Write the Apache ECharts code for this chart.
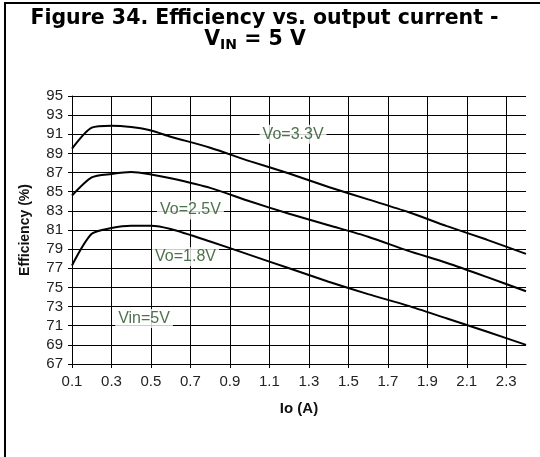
<!DOCTYPE html>
<html>
<head>
<meta charset="utf-8">
<script src="https://cdn.jsdelivr.net/npm/echarts@6/dist/echarts.min.js"></script>
<style>
  html, body { margin: 0; padding: 0; background: #fff; }
  #chart { width: 540px; height: 457px; }
</style>
</head>
<body>
<div id="chart"></div>
<script>
// Output current (A) sample points shared by all three curves
const currents = [0.1, 0.2, 0.3, 0.4, 0.5, 0.6, 0.8, 1.0, 1.2, 1.4, 1.6, 1.8, 2.0, 2.2, 2.4];

// Efficiency (%) for each output voltage, Vin = 5 V
const eff33 = [89.5, 91.7, 91.9, 91.75, 91.4, 90.75, 89.6, 88.2, 86.9, 85.5, 84.2, 82.9, 81.4, 80.0, 78.5];
const eff25 = [84.6, 86.5, 86.85, 87.05, 86.8, 86.4, 85.4, 84.0, 82.7, 81.5, 80.3, 78.85, 77.55, 76.1, 74.6];
const eff18 = [77.3, 80.6, 81.2, 81.45, 81.45, 81.1, 79.8, 78.4, 77.0, 75.6, 74.3, 73.1, 71.75, 70.4, 69.0];

// Tick labels
const xTickLabels = [0.1, 0.3, 0.5, 0.7, 0.9, 1.1, 1.3, 1.5, 1.7, 1.9, 2.1, 2.3];
const yTickLabels = [67, 69, 71, 73, 75, 77, 79, 81, 83, 85, 87, 89, 91, 93, 95];

// In-plot annotations: text and where they sit (Io, efficiency)
const noteTexts = ['Vo=3.3V', 'Vo=2.5V', 'Vo=1.8V', 'Vin=5V'];
const noteIo = [1.22, 0.70, 0.675, 0.465];
const noteEff = [91.0, 83.1, 78.2, 71.75];

const titleLine1 = 'Figure 34. Efficiency vs. output current -';
const titleV = 'V';
const titleSub = 'IN';
const titleRest = ' = 5 V';

const chart = echarts.init(document.getElementById('chart'), null, { renderer: 'canvas' });

const TITLE_FONT = 'bold 20.5px "DejaVu Sans"';
const SUB_FONT = 'bold 14px "DejaVu Sans"';
const measure = (() => {
  const ctx = document.createElement('canvas').getContext('2d');
  return (txt, font) => { ctx.font = font; return ctx.measureText(txt).width; };
})();

const wV = measure(titleV, TITLE_FONT);
const wSub = measure(titleSub, SUB_FONT);
const wRest = measure(titleRest, TITLE_FONT);
const line2Left = 255 - (wV + wSub + wRest) / 2;

const curve = (vals) => ({
  type: 'line',
  data: currents.map((c, i) => [c, vals[i]]),
  smooth: 0.25,
  symbol: 'none',
  lineStyle: { color: '#000', width: 2 },
  z: 3,
  silent: true
});

const gridColor = '#000';

chart.setOption({
  animation: false,
  backgroundColor: '#fff',
  grid: { left: 72, right: 14, top: 96, bottom: 93 },
  xAxis: {
    type: 'value',
    min: 0.1,
    max: 2.4,
    interval: 0.1,
    name: 'Io (A)',
    nameLocation: 'middle',
    nameGap: 37,
    nameTextStyle: { fontFamily: 'Liberation Sans', fontWeight: 'bold', fontSize: 15, color: '#111' },
    axisLine: { show: true, lineStyle: { color: '#000', width: 1 } },
    axisTick: { show: true, customValues: xTickLabels, length: 4, lineStyle: { color: '#000' } },
    axisLabel: {
      customValues: xTickLabels,
      formatter: (v) => Number(v).toFixed(1),
      fontFamily: 'Liberation Sans', fontSize: 15, color: '#222', margin: 10
    },
    splitLine: { show: true, lineStyle: { color: gridColor, width: 1 } }
  },
  yAxis: {
    type: 'value',
    min: 67,
    max: 95,
    interval: 2,
    name: 'Efficiency (%)',
    nameLocation: 'middle',
    nameGap: 40,
    nameTextStyle: { fontFamily: 'Liberation Sans', fontWeight: 'bold', fontSize: 14, color: '#111' },
    axisLine: { show: true, lineStyle: { color: '#000', width: 1 } },
    axisTick: { show: true, customValues: yTickLabels, length: 4, lineStyle: { color: '#000' } },
    axisLabel: {
      customValues: yTickLabels,
      fontFamily: 'Liberation Sans', fontSize: 15, color: '#222', margin: 9
    },
    splitLine: { show: true, lineStyle: { color: gridColor, width: 1 } }
  },
  series: [
    curve(eff33),
    curve(eff25),
    curve(eff18),
    {
      type: 'scatter',
      symbolSize: 0,
      silent: true,
      z: 4,
      data: noteTexts.map((t, i) => ({ name: t, value: [noteIo[i], noteEff[i]] })),
      label: {
        show: true,
        position: 'inside',
        formatter: (p) => p.name,
        fontFamily: 'Liberation Sans',
        fontSize: 16,
        color: '#1f4d1f',
        backgroundColor: '#fff',
        padding: [2, 3, 1, 3]
      }
    }
  ],
  graphic: [
    {
      type: 'line', silent: true,
      shape: { x1: 4, y1: 3, x2: 540, y2: 3 },
      style: { stroke: '#000', lineWidth: 2 }
    },
    {
      type: 'line', silent: true,
      shape: { x1: 5, y1: 2, x2: 5, y2: 457 },
      style: { stroke: '#000', lineWidth: 2 }
    },
    {
      type: 'text', silent: true, x: 264.5, y: 19,
      style: { text: titleLine1, font: TITLE_FONT, fill: '#000', textAlign: 'center', textVerticalAlign: 'middle' }
    },
    {
      type: 'text', silent: true, x: line2Left, y: 40,
      style: { text: titleV, font: TITLE_FONT, fill: '#000', textAlign: 'left', textVerticalAlign: 'middle' }
    },
    {
      type: 'text', silent: true, x: line2Left + wV, y: 45,
      style: { text: titleSub, font: SUB_FONT, fill: '#000', textAlign: 'left', textVerticalAlign: 'middle' }
    },
    {
      type: 'text', silent: true, x: line2Left + wV + wSub, y: 40,
      style: { text: titleRest, font: TITLE_FONT, fill: '#000', textAlign: 'left', textVerticalAlign: 'middle' }
    }
  ]
});
</script>
</body>
</html>
